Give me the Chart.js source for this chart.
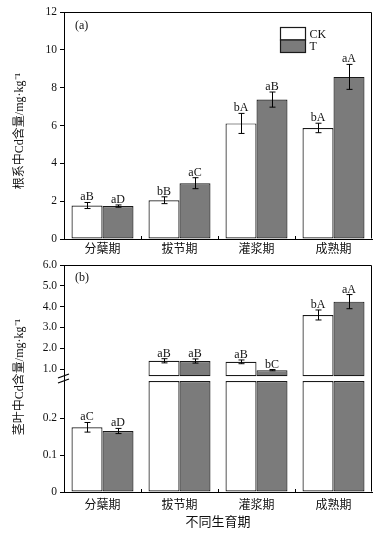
<!DOCTYPE html>
<html><head><meta charset="utf-8">
<script src="https://cdn.jsdelivr.net/npm/chart.js@4.4.1/dist/chart.umd.min.js"></script>
<style>
html,body{margin:0;padding:0;background:#fff;}
#wrap{position:relative;width:391px;height:534px;background:#fff;}
canvas{position:absolute;left:0;}
</style></head><body>
<div id="wrap">
<canvas id="c1" width="391" height="255" style="top:0"></canvas>
<canvas id="c2" width="391" height="279" style="top:255px"></canvas>
</div>
<script>
// ---- data ----
const STAGES = ['分蘖期', '拔节期', '灌浆期', '成熟期'];
const SERIES = ['CK', 'T'];

// (a) root Cd content
const ROOT_CK     = [1.77, 2.05, 6.11, 5.87];
const ROOT_CK_ERR = [0.16, 0.18, 0.53, 0.25];
const ROOT_T      = [1.74, 2.95, 7.37, 8.57];
const ROOT_T_ERR  = [0.06, 0.29, 0.40, 0.66];
const ROOT_CK_SIG = ['aB', 'bB', 'bA', 'bA'];
const ROOT_T_SIG  = ['aD', 'aC', 'aB', 'aA'];
const ROOT_TICKS  = [0, 2, 4, 6, 8, 10, 12];

// (b) stem-leaf Cd content
const LEAF_CK     = [0.175, 1.40, 1.35, 3.60];
const LEAF_CK_ERR = [0.013, 0.10, 0.09, 0.24];
const LEAF_T      = [0.165, 1.39, 0.95, 4.24];
const LEAF_T_ERR  = [0.007, 0.10, 0.03, 0.34];
const LEAF_CK_SIG = ['aC', 'aB', 'aB', 'bA'];
const LEAF_T_SIG  = ['aD', 'aB', 'bC', 'aA'];
const LEAF_HIGH_TICKS = [1, 2, 3, 4, 5, 6];
const LEAF_LOW_TICKS  = [0, 0.1, 0.2];

// axis break
const LOW_TOP = 0.30;    // lower segment bars end here
const HIGH_BASE = 0.66;  // upper segment bars start here

const X_TITLE = '不同生育期';
const Y_TITLE_A = '根系中Cd含量/mg·kg⁻¹';
const Y_TITLE_B = '茎叶中Cd含量/mg·kg⁻¹';

// ---- styles ----
const SERIF = "'Liberation Serif','Noto Sans CJK SC',serif";
const GREY = '#7b7b7b';
const COLORS = ['#ffffff', GREY];
const EDGE = '#1a1a1a';

const decor = {
  id: 'decor',
  afterDraw(chart, args, o) {
    const ctx = chart.ctx, a = chart.chartArea;
    ctx.save();
    ctx.strokeStyle = '#000';
    ctx.lineWidth = 1;
    // frame
    const L = Math.round(a.left) + 0.5, T = Math.round(a.top) + 0.5;
    const R = Math.round(a.right) - 0.5, B = Math.round(a.bottom) - 0.5;
    ctx.beginPath();
    ctx.moveTo(L, T); ctx.lineTo(R, T); ctx.lineTo(R, B);
    ctx.stroke();
    // small inner ticks between categories
    const xs = chart.scales.x;
    for (let i = 1; i < xs.ticks.length; i++) {
      const x = Math.round((xs.getPixelForTick(i - 1) + xs.getPixelForTick(i)) / 2) + 0.5;
      ctx.beginPath(); ctx.moveTo(x, a.bottom); ctx.lineTo(x, a.bottom - 3); ctx.stroke();
    }
    // error bars + significance letters
    ctx.font = '12px ' + SERIF;
    ctx.fillStyle = '#111';
    ctx.textAlign = 'center';
    ctx.textBaseline = 'alphabetic';
    chart.data.datasets.forEach((ds, di) => {
      if (!ds.errors) return;
      const meta = chart.getDatasetMeta(di);
      const ys = chart.scales[meta.yAxisID];
      ds.errors.forEach((e, j) => {
        if (e == null) return;
        const el = meta.data[j];
        if (!el) return;
        const m = ds.means[j];
        const x = Math.round(el.x) + 0.5;
        const yt = ys.getPixelForValue(m + e), yb = ys.getPixelForValue(m - e);
        ctx.lineWidth = 1;
        ctx.beginPath();
        ctx.moveTo(x, yt); ctx.lineTo(x, yb);
        ctx.moveTo(x - 3, yt); ctx.lineTo(x + 3, yt);
        ctx.moveTo(x - 3, yb); ctx.lineTo(x + 3, yb);
        ctx.stroke();
        if (ds.letters && ds.letters[j]) ctx.fillText(ds.letters[j], el.x, yt - 2);
      });
    });
    // panel label
    ctx.textAlign = 'left';
    ctx.textBaseline = 'middle';
    ctx.fillText(o.panel, a.left + 11, a.top + o.panelDy);
    // legend
    if (o.legend) {
      const lx = Math.round(a.right) - 92 + 0.5, ly = Math.round(a.top) + 15 + 0.5, bw = 25, bh = 12.5;
      SERIES.forEach((s, k) => {
        ctx.fillStyle = COLORS[k];
        ctx.fillRect(lx, ly + k * bh, bw, bh);
        ctx.strokeStyle = EDGE; ctx.lineWidth = 1.2;
        ctx.strokeRect(lx, ly + k * bh, bw, bh);
        ctx.fillStyle = '#111';
        ctx.fillText(s, lx + bw + 4, ly + k * bh + bh / 2 + 1);
      });
    }
    // y title
    ctx.save();
    ctx.translate(20, o.titleY);
    ctx.rotate(-Math.PI / 2);
    ctx.textAlign = 'center';
    ctx.textBaseline = 'middle';
    ctx.font = '12px ' + SERIF;
    ctx.fillStyle = '#111';
    ctx.fillText(o.title, 0, 0);
    ctx.restore();
    // axis break marks
    if (o.brk) {
      const yb = chart.scales.yLow.top, x0 = a.left;
      ctx.strokeStyle = '#000'; ctx.lineWidth = 1.3;
      [-2.5, 2.5].forEach(d => {
        ctx.beginPath();
        ctx.moveTo(x0 - 6, yb + d + 2); ctx.lineTo(x0 + 5, yb + d - 2);
        ctx.stroke();
      });
    }
    ctx.restore();
  }
};

const barOpts = { borderColor: EDGE, borderWidth: 1.2, borderSkipped: false,
                  categoryPercentage: 0.805, barPercentage: 1 };
const yTickFont = { family: SERIF, size: 11.5 };
const yCommon = {
  grid: { drawOnChartArea: false, tickLength: 4, color: '#000' },
  border: { color: '#000', width: 1 },
  afterFit: s => { s.width = 64; }
};

// ---- chart (a) ----
new Chart(document.getElementById('c1'), {
  type: 'bar',
  data: {
    labels: STAGES,
    datasets: [
      { label: SERIES[0], data: ROOT_CK, means: ROOT_CK, errors: ROOT_CK_ERR, letters: ROOT_CK_SIG, backgroundColor: COLORS[0] },
      { label: SERIES[1], data: ROOT_T, means: ROOT_T, errors: ROOT_T_ERR, letters: ROOT_T_SIG, backgroundColor: COLORS[1] }
    ]
  },
  options: {
    responsive: false, animation: false, devicePixelRatio: 1,
    layout: { padding: { top: 12, right: 19, left: 0, bottom: 0 } },
    datasets: { bar: barOpts },
    plugins: { legend: { display: false }, tooltip: { enabled: false },
      decor: { panel: '(a)', panelDy: 14, legend: true, title: Y_TITLE_A, titleY: 131 } },
    scales: {
      x: { grid: { display: false, drawTicks: false }, border: { color: '#000', width: 1 },
           ticks: { font: { family: SERIF, size: 12 }, color: '#111', padding: 4 },
           afterFit: s => { s.height = 16; } },
      y: Object.assign({}, yCommon, { min: 0, max: 12,
           afterBuildTicks: s => { s.ticks = ROOT_TICKS.map(v => ({ value: v })); },
           ticks: { font: yTickFont, color: '#111', padding: 3, autoSkip: false, callback: v => String(v) } })
    }
  },
  plugins: [decor]
});

// ---- chart (b) with broken axis ----
const lowPart = arr => arr.map(v => [0, Math.min(v, LOW_TOP)]);
const highPart = arr => arr.map(v => v > LOW_TOP ? [HIGH_BASE, v] : null);
const onlyLow = (arr, ref) => arr.map((e, i) => ref[i] <= LOW_TOP ? e : null);
const onlyHigh = (arr, ref) => arr.map((e, i) => ref[i] > LOW_TOP ? e : null);

new Chart(document.getElementById('c2'), {
  type: 'bar',
  data: {
    labels: STAGES,
    datasets: [
      { label: SERIES[0], stack: 'ck', yAxisID: 'yLow', data: lowPart(LEAF_CK), means: LEAF_CK,
        errors: onlyLow(LEAF_CK_ERR, LEAF_CK), letters: onlyLow(LEAF_CK_SIG, LEAF_CK), backgroundColor: COLORS[0] },
      { label: SERIES[1], stack: 't', yAxisID: 'yLow', data: lowPart(LEAF_T), means: LEAF_T,
        errors: onlyLow(LEAF_T_ERR, LEAF_T), letters: onlyLow(LEAF_T_SIG, LEAF_T), backgroundColor: COLORS[1] },
      { label: SERIES[0], stack: 'ck', yAxisID: 'yHigh', data: highPart(LEAF_CK), means: LEAF_CK,
        errors: onlyHigh(LEAF_CK_ERR, LEAF_CK), letters: onlyHigh(LEAF_CK_SIG, LEAF_CK), backgroundColor: COLORS[0] },
      { label: SERIES[1], stack: 't', yAxisID: 'yHigh', data: highPart(LEAF_T), means: LEAF_T,
        errors: onlyHigh(LEAF_T_ERR, LEAF_T), letters: onlyHigh(LEAF_T_SIG, LEAF_T), backgroundColor: COLORS[1] }
    ]
  },
  options: {
    responsive: false, animation: false, devicePixelRatio: 1,
    layout: { padding: { top: 10, right: 19, left: 0, bottom: 0 } },
    datasets: { bar: barOpts },
    plugins: { legend: { display: false }, tooltip: { enabled: false },
      decor: { panel: '(b)', panelDy: 13, legend: false, title: Y_TITLE_B, titleY: 122, brk: true } },
    scales: {
      x: { grid: { display: false, drawTicks: false }, border: { color: '#000', width: 1 },
           ticks: { font: { family: SERIF, size: 12 }, color: '#111', padding: 7 },
           title: { display: true, text: X_TITLE, font: { family: SERIF, size: 13 }, color: '#111',
                    padding: { top: 0, bottom: 4 } },
           afterFit: s => { s.height = 42; } },
      yLow: Object.assign({}, yCommon, { type: 'linear', position: 'left', stack: 'leaf', stackWeight: 1,
           stacked: false, min: 0, max: 0.307,
           afterBuildTicks: s => { s.ticks = LEAF_LOW_TICKS.map(v => ({ value: v })); },
           ticks: { font: yTickFont, color: '#111', padding: 3, autoSkip: false, callback: v => (v === 0 ? '0' : Number(v).toFixed(1)) } }),
      yHigh: Object.assign({}, yCommon, { type: 'linear', position: 'left', stack: 'leaf', stackWeight: 1,
           stacked: false, min: 0.55, max: 6,
           afterBuildTicks: s => { s.ticks = LEAF_HIGH_TICKS.map(v => ({ value: v })); },
           ticks: { font: yTickFont, color: '#111', padding: 3, autoSkip: false, callback: v => Number(v).toFixed(1) } })
    }
  },
  plugins: [decor]
});
</script>
</body></html>
